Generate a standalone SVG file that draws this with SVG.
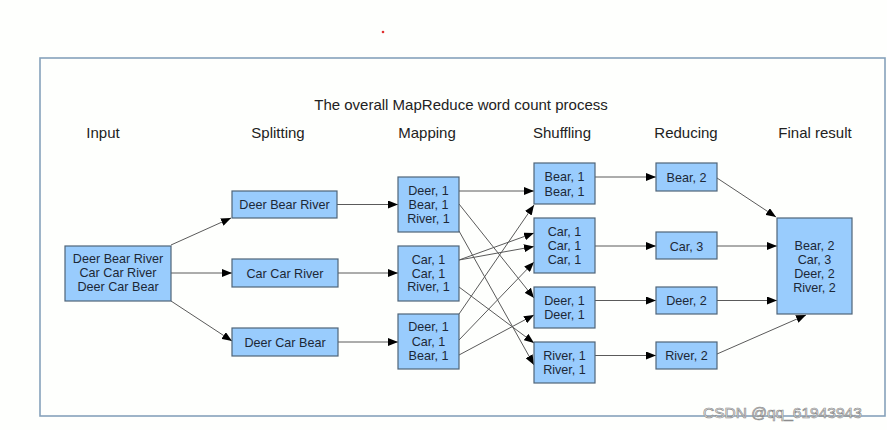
<svg xmlns="http://www.w3.org/2000/svg" width="887" height="430" viewBox="0 0 887 430">
<style>
.bg{fill:#fefffd}
.frame{fill:none;stroke:#86a2bb;stroke-width:1.6}
.box{fill:#99ccfd;stroke:#4f6478;stroke-width:1.2}
.t{font-family:"Liberation Sans",Arial,sans-serif;font-size:12.6px;fill:#1c2836;text-anchor:middle}
.h{font-family:"Liberation Sans",Arial,sans-serif;font-size:15px;fill:#222;text-anchor:middle}
.c line{stroke:#5a5a5a;stroke-width:1;marker-end:url(#ah)}
.wm{font-family:"Liberation Sans",Arial,sans-serif;font-size:15.5px;fill:#f6f6f6;stroke:#8c8c8c;stroke-width:0.7}
</style>
<defs>
<marker id="ah" viewBox="0 0 10 8" refX="10" refY="4" markerWidth="10" markerHeight="8" markerUnits="userSpaceOnUse" orient="auto">
<path d="M0,0 L10,4 L0,8 Z" fill="#000"/>
</marker>
</defs>
<rect class="bg" x="0" y="0" width="887" height="430"/>
<circle cx="383" cy="32" r="1.3" fill="#e03030"/>
<rect class="frame" x="40" y="58" width="845" height="358"/>
<text class="h" x="461" y="110">The overall MapReduce word count process</text>
<g id="headers">
<text class="h" x="103" y="138">Input</text>
<text class="h" x="278" y="138">Splitting</text>
<text class="h" x="427" y="138">Mapping</text>
<text class="h" x="562" y="138">Shuffling</text>
<text class="h" x="686" y="138">Reducing</text>
<text class="h" x="815" y="138">Final result</text>
</g>
<g class="c" id="connectors">
<line x1="171" y1="245" x2="231" y2="218"/>
<line x1="171" y1="273" x2="232" y2="273"/>
<line x1="171" y1="301" x2="232" y2="341"/>
<line x1="337" y1="204.5" x2="398" y2="204.5"/>
<line x1="338" y1="273" x2="398" y2="273"/>
<line x1="338" y1="342" x2="398" y2="342"/>
<line x1="459" y1="191" x2="534" y2="191"/>
<line x1="459" y1="204" x2="534" y2="298"/>
<line x1="459" y1="231" x2="534" y2="365"/>
<line x1="459" y1="260" x2="534" y2="233"/>
<line x1="459" y1="260" x2="534" y2="246.5"/>
<line x1="459" y1="287" x2="534" y2="343"/>
<line x1="459" y1="314" x2="534" y2="205"/>
<line x1="459" y1="340" x2="534" y2="262"/>
<line x1="459" y1="355" x2="534" y2="315"/>
<line x1="595" y1="177" x2="656" y2="177"/>
<line x1="595" y1="246" x2="656" y2="246"/>
<line x1="595" y1="300.5" x2="656" y2="300.5"/>
<line x1="595" y1="355.5" x2="656" y2="355.5"/>
<line x1="717" y1="178" x2="776" y2="217"/>
<line x1="717" y1="246" x2="777" y2="246"/>
<line x1="717" y1="300.5" x2="777" y2="300.5"/>
<line x1="717" y1="354" x2="806" y2="315"/>
</g>
<g id="input">
<rect class="box" x="65" y="246" width="106" height="55"/>
<text class="t" x="118" y="263">Deer Bear River</text>
<text class="t" x="118" y="277">Car Car River</text>
<text class="t" x="118" y="291">Deer Car Bear</text>
</g>
<g id="split1">
<rect class="box" x="232" y="191" width="105" height="27"/>
<text class="t" x="284.5" y="209">Deer Bear River</text>
</g>
<g id="split2">
<rect class="box" x="232" y="259" width="106" height="28"/>
<text class="t" x="285" y="277.5">Car Car River</text>
</g>
<g id="split3">
<rect class="box" x="232" y="328" width="106" height="28"/>
<text class="t" x="285" y="346.5">Deer Car Bear</text>
</g>
<g id="map1">
<rect class="box" x="398" y="177" width="61" height="55"/>
<text class="t" x="428.5" y="194.5">Deer, 1</text>
<text class="t" x="428.5" y="208.5">Bear, 1</text>
<text class="t" x="428.5" y="222.5">River, 1</text>
</g>
<g id="map2">
<rect class="box" x="398" y="246" width="61" height="55"/>
<text class="t" x="428.5" y="264">Car, 1</text>
<text class="t" x="428.5" y="277.5">Car, 1</text>
<text class="t" x="428.5" y="291">River, 1</text>
</g>
<g id="map3">
<rect class="box" x="398" y="314" width="61" height="55"/>
<text class="t" x="428.5" y="331">Deer, 1</text>
<text class="t" x="428.5" y="345.5">Car, 1</text>
<text class="t" x="428.5" y="359.5">Bear, 1</text>
</g>
<g id="shuf1">
<rect class="box" x="534" y="163" width="61" height="41"/>
<text class="t" x="564.5" y="180.5">Bear, 1</text>
<text class="t" x="564.5" y="196">Bear, 1</text>
</g>
<g id="shuf2">
<rect class="box" x="534" y="218" width="61" height="55"/>
<text class="t" x="564.5" y="235.5">Car, 1</text>
<text class="t" x="564.5" y="249.5">Car, 1</text>
<text class="t" x="564.5" y="263.5">Car, 1</text>
</g>
<g id="shuf3">
<rect class="box" x="534" y="287" width="61" height="41"/>
<text class="t" x="564.5" y="304.5">Deer, 1</text>
<text class="t" x="564.5" y="319">Deer, 1</text>
</g>
<g id="shuf4">
<rect class="box" x="534" y="342" width="61" height="41"/>
<text class="t" x="564.5" y="359.5">River, 1</text>
<text class="t" x="564.5" y="374">River, 1</text>
</g>
<g id="red1">
<rect class="box" x="656" y="163" width="61" height="28"/>
<text class="t" x="686.5" y="181.5">Bear, 2</text>
</g>
<g id="red2">
<rect class="box" x="656" y="232" width="61" height="27"/>
<text class="t" x="686.5" y="250.5">Car, 3</text>
</g>
<g id="red3">
<rect class="box" x="656" y="287" width="61" height="27"/>
<text class="t" x="686.5" y="305">Deer, 2</text>
</g>
<g id="red4">
<rect class="box" x="656" y="342" width="61" height="27"/>
<text class="t" x="686.5" y="360">River, 2</text>
</g>
<g id="final">
<rect class="box" x="777" y="218" width="75" height="96"/>
<text class="t" x="814.5" y="249.5">Bear, 2</text>
<text class="t" x="814.5" y="263.5">Car, 3</text>
<text class="t" x="814.5" y="277.5">Deer, 2</text>
<text class="t" x="814.5" y="291.5">River, 2</text>
</g>
<text class="wm" x="703" y="418">CSDN @qq_61943943</text>
</svg>
